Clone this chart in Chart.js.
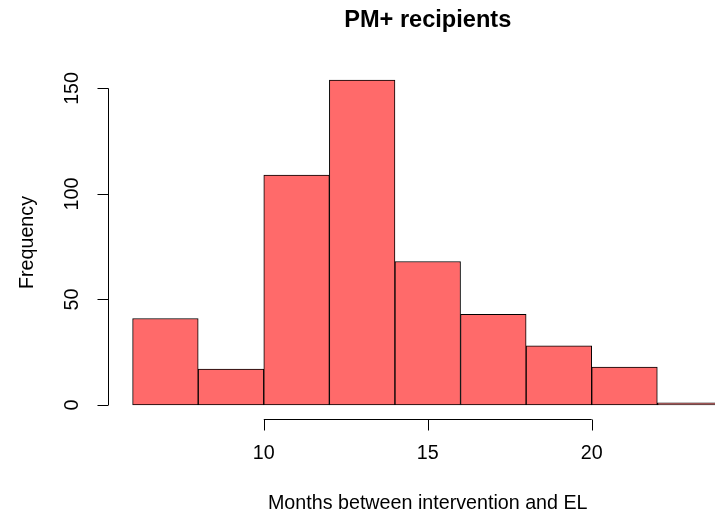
<!DOCTYPE html>
<html>
<head>
<meta charset="utf-8">
<script src="https://cdn.jsdelivr.net/npm/chart.js@4"></script>
<style>
  html, body { margin: 0; padding: 0; background: #fff; overflow: hidden; }
  #wrap { width: 715px; height: 516px; overflow: hidden; }
</style>
</head>
<body>
<div id="wrap"><canvas id="histChart" width="760" height="516"></canvas></div>
<script>
// histogram bins (months) and counts
const binStarts = [6, 8, 10, 12, 14, 16, 18, 20, 22];
const binEnds = [8, 10, 12, 14, 16, 18, 20, 22, 24];
const counts = [41, 17, 109, 154, 68, 43, 28, 18, 1];
const xTicks = [10, 15, 20];
const yTicks = [0, 50, 100, 150];

const titleText = 'PM+ recipients';
const xLabel = 'Months between intervention and EL';
const yLabel = 'Frequency';

const font = '"Liberation Sans", Arial, Helvetica, sans-serif';

// R style axes, drawn on top of the bars
const rAxes = {
  id: 'rAxes',
  afterDraw(chart) {
    const ctx = chart.ctx;
    const xs = chart.scales.x;
    const ys = chart.scales.y;
    const area = chart.chartArea;
    ctx.save();
    ctx.strokeStyle = '#000';
    ctx.fillStyle = '#000';
    ctx.lineWidth = 1;

    // x axis
    const axY = 419.5;
    ctx.beginPath();
    ctx.moveTo(xs.getPixelForValue(xTicks[0]), axY);
    ctx.lineTo(xs.getPixelForValue(xTicks[xTicks.length - 1]), axY);
    xTicks.forEach(t => {
      const px = Math.round(xs.getPixelForValue(t)) + 0.5;
      ctx.moveTo(px, axY);
      ctx.lineTo(px, axY + 11);
    });
    ctx.stroke();
    ctx.font = '19.7px ' + font;
    ctx.textAlign = 'center';
    ctx.textBaseline = 'middle';
    xTicks.forEach(t => ctx.fillText(String(t), xs.getPixelForValue(t), 454));
    ctx.fillText(xLabel, (area.left + area.right) / 2, 504);

    // y axis
    const axX = 108.5;
    ctx.beginPath();
    ctx.moveTo(axX, ys.getPixelForValue(yTicks[0]));
    ctx.lineTo(axX, ys.getPixelForValue(yTicks[yTicks.length - 1]));
    yTicks.forEach(t => {
      const py = Math.round(ys.getPixelForValue(t)) + 0.5;
      ctx.moveTo(axX, py);
      ctx.lineTo(axX - 11, py);
    });
    ctx.stroke();
    yTicks.forEach(t => {
      ctx.save();
      ctx.translate(73, ys.getPixelForValue(t));
      ctx.rotate(-Math.PI / 2);
      ctx.fillText(String(t), 0, 0);
      ctx.restore();
    });
    ctx.save();
    ctx.translate(28, (area.top + area.bottom) / 2);
    ctx.rotate(-Math.PI / 2);
    ctx.fillText(yLabel, 0, 0);
    ctx.restore();

    // title
    ctx.font = 'bold 23.6px ' + font;
    ctx.fillText(titleText, (area.left + area.right) / 2, 20);
    ctx.restore();
  }
};

const ctx = document.getElementById('histChart').getContext('2d');
new Chart(ctx, {
  type: 'bar',
  data: {
    datasets: [{
      label: yLabel,
      data: counts.map((c, i) => ({ x: (binStarts[i] + binEnds[i]) / 2, y: c })),
      backgroundColor: '#FF6A6A',
      borderColor: '#000',
      borderWidth: 1,
      borderSkipped: false,
      barPercentage: 1,
      categoryPercentage: 1
    }]
  },
  options: {
    responsive: false,
    animation: false,
    layout: { padding: { left: 109, top: 67, right: 13.5, bottom: 98 } },
    plugins: { legend: { display: false }, tooltip: { enabled: false }, title: { display: false } },
    scales: {
      x: { type: 'linear', min: 5.28, max: 24.72, offset: false, display: false },
      y: { min: -6.16, max: 160.16, display: false }
    }
  },
  plugins: [rAxes]
});
</script>
</body>
</html>
